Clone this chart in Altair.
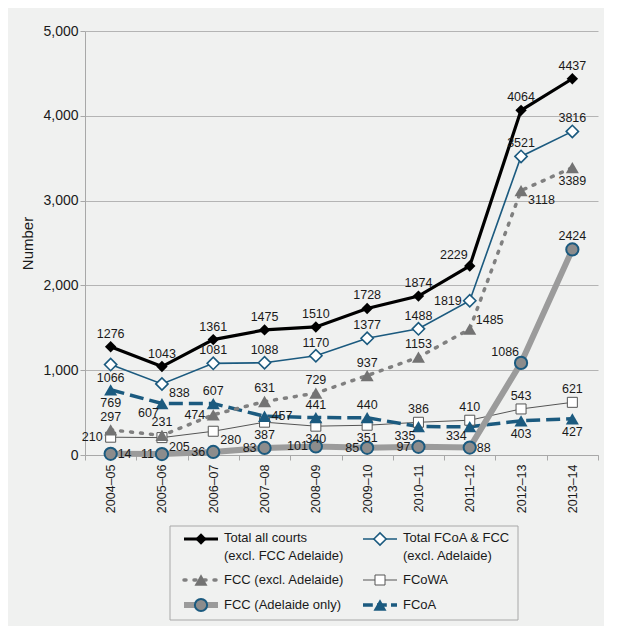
import altair as alt
import pandas as pd

# ---------------- data ----------------
YEARS = ["2004–05", "2005–06", "2006–07", "2007–08", "2008–09",
         "2009–10", "2010–11", "2011–12", "2012–13", "2013–14"]

TOTAL_ALL = [1276, 1043, 1361, 1475, 1510, 1728, 1874, 2229, 4064, 4437]
TOTAL_FCOA_FCC = [1066, 838, 1081, 1088, 1170, 1377, 1488, 1819, 3521, 3816]
FCC_EXCL = [297, 231, 474, 631, 729, 937, 1153, 1485, 3118, 3389]
FCOWA = [210, 205, 280, 387, 340, 351, 386, 410, 543, 621]
FCC_ADEL = [14, 11, 36, 83, 101, 85, 97, 88, 1086, 2424]
FCOA = [769, 607, 607, 457, 441, 440, 335, 334, 403, 427]

# label placement codes (t=top, b=bottom, l=left, r=right ...)
LBL_TOTAL_ALL = ["t", "t", "t", "t", "t", "t", "t", "tl", "t", "t"]
LBL_TOTAL_FCOA_FCC = ["b", "br", "t", "t", "t", "t", "t", "l", "t", "t"]
LBL_FCC_EXCL = ["t", "t", "l", "t", "t", "t", "t", "tr", "br", "b"]
LBL_FCOWA = ["l", "br", "br", "b", "b", "b", "t", "t", "t", "t"]
LBL_FCC_ADEL = ["r", "l", "l", "l", "l", "l", "l", "r", "tl", "t"]
LBL_FCOA = ["b", "bl", "t", "r", "t", "t", "bl", "bl", "b", "b"]

LEGEND_TEXT = {
    "total_all": ["Total all courts", "(excl. FCC Adelaide)"],
    "total_fcoa_fcc": ["Total FCoA & FCC", "(excl. Adelaide)"],
    "fcc_excl": ["FCC (excl. Adelaide)"],
    "fcowa": ["FCoWA"],
    "fcc_adel": ["FCC (Adelaide only)"],
    "fcoa": ["FCoA"],
}
LEGEND_SLOT = {  # (column, row)
    "total_all": (0, 0), "total_fcoa_fcc": (1, 0),
    "fcc_excl": (0, 1), "fcowa": (1, 1),
    "fcc_adel": (0, 2), "fcoa": (1, 2),
}

# ---------------- styles ----------------
BLUE = "#1b5a7f"
FONT = "Liberation Sans, Arial, sans-serif"
TXT = "#1a1a1a"
BG = "#f0f1f0"

STYLES = {
    "fcowa": dict(color="#555555", width=1, dash=None, cap="butt",
                  shape="square", size=100, fill="white", pstroke="#555555", psw=1),
    "fcoa": dict(color=BLUE, width=3.5, dash=[14, 6], cap="butt",
                 shape="triangle-up", size=170, fill=BLUE, pstroke=BLUE, psw=0),
    "fcc_excl": dict(color="#808080", width=3.5, dash=[2, 8], cap="round",
                     shape="triangle-up", size=170, fill="#737373", pstroke="#737373", psw=0),
    "total_fcoa_fcc": dict(color=BLUE, width=1.6, dash=None, cap="butt",
                           shape="diamond", size=150, fill="white", pstroke=BLUE, psw=1.6),
    "total_all": dict(color="#000000", width=3.2, dash=None, cap="butt",
                      shape="diamond", size=130, fill="#000000", pstroke="#000000", psw=0),
    "fcc_adel": dict(color="#9b9b9b", width=6, dash=None, cap="butt",
                     shape="circle", size=150, fill="#8c8c8c", pstroke=BLUE, psw=2),
}

SERIES = [
    ("fcowa", FCOWA, LBL_FCOWA),
    ("fcoa", FCOA, LBL_FCOA),
    ("fcc_excl", FCC_EXCL, LBL_FCC_EXCL),
    ("total_fcoa_fcc", TOTAL_FCOA_FCC, LBL_TOTAL_FCOA_FCC),
    ("total_all", TOTAL_ALL, LBL_TOTAL_ALL),
    ("fcc_adel", FCC_ADEL, LBL_FCC_ADEL),
]

PLACE = {
    "t": (0, -13, "center"), "b": (0, 13, "center"),
    "l": (-8, 0, "right"), "r": (7, 0, "left"),
    "tl": (-2, -11, "right"), "tr": (6, -9, "left"),
    "bl": (-3, 9, "right"), "br": (7, 9, "left"),
}

rows = []
for key, vals, lbls in SERIES:
    for y, v, p in zip(YEARS, vals, lbls):
        rows.append({"series": key, "year": y, "value": v, "pos": p})
df = pd.DataFrame(rows)

W, H = 513, 424

x_enc = alt.X("year:O", sort=YEARS,
              scale=alt.Scale(type="band", paddingInner=0, paddingOuter=0),
              axis=alt.Axis(title=None, labelAngle=270, labelFont=FONT, labelFontSize=12.5,
                            labelColor=TXT, tickBand="extent", ticks=True, tickSize=5,
                            tickColor="#a8a8a8", domainColor="#a8a8a8", labelPadding=4,
                            grid=False, labelAlign="right", labelBaseline="middle"))
y_enc = alt.Y("value:Q", scale=alt.Scale(domain=[0, 5000], nice=False),
              axis=alt.Axis(title="Number", values=[0, 1000, 2000, 3000, 4000, 5000],
                            format=",d", labelFont=FONT, labelFontSize=14, labelColor=TXT,
                            titleFont=FONT, titleFontSize=15, titleFontWeight="normal",
                            titleColor=TXT, titlePadding=7, tickSize=5, tickColor="#a8a8a8",
                            domainColor="#a8a8a8", gridColor="#b4b4b4", labelPadding=2))

base = alt.Chart(df)
layers = []
for key, vals, lbls in SERIES:
    st = STYLES[key]
    lkw = dict(color=st["color"], strokeWidth=st["width"], strokeCap=st["cap"])
    if st["dash"]:
        lkw["strokeDash"] = st["dash"]
    sub = base.transform_filter(alt.datum.series == key)
    layers.append(sub.mark_line(**lkw).encode(x=x_enc, y=y_enc))
for key, vals, lbls in SERIES:
    st = STYLES[key]
    sub = base.transform_filter(alt.datum.series == key)
    layers.append(sub.mark_point(shape=st["shape"], size=st["size"], filled=True,
                                 fill=st["fill"], stroke=st["pstroke"],
                                 strokeWidth=st["psw"], opacity=1).encode(x=x_enc, y=y_enc))
for code, (dx, dy, al) in PLACE.items():
    layers.append(base.transform_filter(alt.datum.pos == code).mark_text(
        dx=dx, dy=dy, align=al, baseline="middle", font=FONT, fontSize=12.5, color=TXT
    ).encode(x=x_enc, y=y_enc, text=alt.Text("value:Q", format="d")))

main = alt.layer(*layers)

# ---------------- legend (own scales, placed below the plot) ----------------
LEG_W, LEG_H = 348, 94
LEG_COL_X = [31, 210]
LEG_ROW_Y = [13, 54, 79]
LEG_HALF = 17
LEG_TXT_DX = 23
LEG_LINE_H = 18

lx_scale = alt.Scale(domain=[0, LEG_W], range=[85, 85 + LEG_W], nice=False, zero=False)
ly_scale = alt.Scale(domain=[0, LEG_H], range=[495, 495 + LEG_H], nice=False, zero=False)

leg_layers = []
box = pd.DataFrame([{"x": 0, "x2": LEG_W, "y": 0, "y2": LEG_H}])
leg_layers.append(alt.Chart(box).mark_rect(fill=BG, stroke="#a8a8a8", strokeWidth=1).encode(
    x=alt.X("x:Q", scale=lx_scale, axis=None), x2="x2:Q",
    y=alt.Y("y:Q", scale=ly_scale, axis=None), y2="y2:Q"))

line_rows, pt_rows, txt_rows = [], [], []
for key, vals, lbls in SERIES:
    c, r = LEGEND_SLOT[key]
    cx, cy = LEG_COL_X[c], LEG_ROW_Y[r]
    line_rows += [{"series": key, "lx": cx - LEG_HALF, "ly": cy},
                  {"series": key, "lx": cx + LEG_HALF, "ly": cy}]
    pt_rows.append({"series": key, "lx": cx, "ly": cy})
    lines = LEGEND_TEXT[key]
    for i, t in enumerate(lines):
        ty = cy - 1 + i * LEG_LINE_H if len(lines) > 1 else cy
        txt_rows.append({"lx": cx + LEG_TXT_DX, "ly": ty, "text": t})
ldf = pd.DataFrame(line_rows)
pdf = pd.DataFrame(pt_rows)
tdf = pd.DataFrame(txt_rows)

lx = alt.X("lx:Q", scale=lx_scale, axis=None)
ly = alt.Y("ly:Q", scale=ly_scale, axis=None)
for key, vals, lbls in SERIES:
    st = STYLES[key]
    lkw = dict(color=st["color"], strokeWidth=st["width"], strokeCap=st["cap"])
    if st["dash"]:
        lkw["strokeDash"] = [d * 0.7 for d in st["dash"]] if key == "fcoa" else st["dash"]
    leg_layers.append(alt.Chart(ldf).transform_filter(alt.datum.series == key)
                      .mark_line(**lkw).encode(x=lx, y=ly))
    leg_layers.append(alt.Chart(pdf).transform_filter(alt.datum.series == key)
                      .mark_point(shape=st["shape"], size=st["size"], filled=True,
                                  fill=st["fill"], stroke=st["pstroke"],
                                  strokeWidth=st["psw"], opacity=1).encode(x=lx, y=ly))
leg_layers.append(alt.Chart(tdf).mark_text(align="left", baseline="middle", font=FONT,
                                           fontSize=13, color=TXT)
                  .encode(x=lx, y=ly, text="text:N"))
legend = alt.layer(*leg_layers)

chart = alt.layer(main, legend).resolve_scale(x="independent", y="independent").properties(
    width=W, height=H, padding={"left": 12, "top": 16, "right": 5, "bottom": 5},
    background=BG
).configure_view(stroke=None)

chart.save("out.html", embed_options={"renderer": "svg", "actions": False})
